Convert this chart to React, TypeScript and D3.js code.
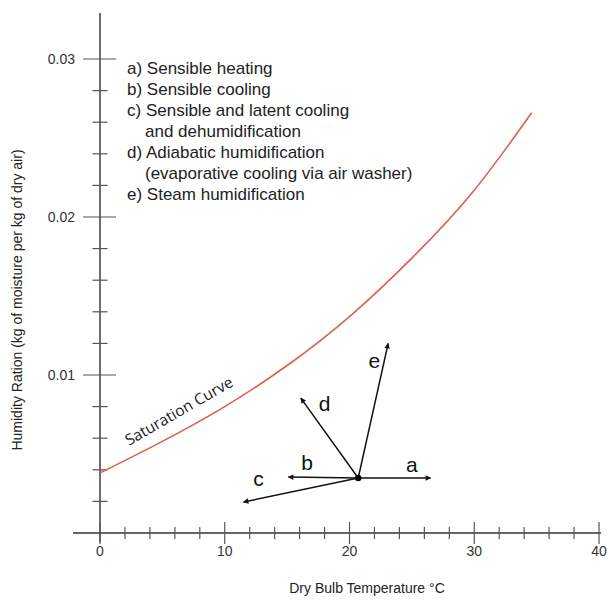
import React from "react";
import * as d3 from "d3";

// Saturation curve (dry bulb °C, humidity ratio kg/kg)
const satTemps = [0, 5, 10, 15, 20, 25, 30, 34.6];
const satW = [0.0038, 0.0058, 0.008, 0.0106, 0.0137, 0.0174, 0.0217, 0.0266];

// Process arrows from a common state point
const originTemp = 20.7;
const originW = 0.00348;
const processKeys = ["a", "b", "c", "d", "e"];
const processEndTemp = [26.5, 15.1, 11.5, 16.1, 23.1];
const processEndW = [0.00348, 0.00354, 0.00196, 0.00854, 0.012];
const processLabelTemp = [25.0, 16.6, 12.7, 18.0, 22.0];
const processLabelW = [0.0043, 0.00443, 0.00342, 0.00816, 0.0109];

// Axis ticks
const xMajorTicks = [0, 10, 20, 30, 40];
const xMinorTicks = [2, 4, 6, 8, 12, 14, 16, 18, 22, 24, 26, 28, 32, 34, 36, 38];
const yMajorTicks = [0.01, 0.02, 0.03];
const yMajorLabels = ["0.01", "0.02", "0.03"];
const yMinorTicks = [0.002, 0.004, 0.006, 0.008, 0.012, 0.014, 0.016, 0.018, 0.022, 0.024, 0.026, 0.028];

const legendLines = [
  { text: "a) Sensible heating", indent: false },
  { text: "b) Sensible cooling", indent: false },
  { text: "c) Sensible and latent cooling", indent: false },
  { text: "and dehumidification", indent: true },
  { text: "d) Adiabatic humidification", indent: false },
  { text: "(evaporative cooling via air washer)", indent: true },
  { text: "e) Steam humidification", indent: false },
];

const xTitle = "Dry Bulb Temperature °C";
const yTitle = "Humidity Ration (kg of moisture per kg of dry air)";
const curveLabel = "Saturation Curve";

export default function App() {
  const W = 615;
  const H = 602;
  const x = d3.scaleLinear().domain([0, 40]).range([100, 599]);
  const y = d3.scaleLinear().domain([0, 0.03]).range([533, 59]);

  const satData = satTemps.map((t, i) => [t, satW[i]] as [number, number]);
  const line = d3
    .line<[number, number]>()
    .x((d) => x(d[0]))
    .y((d) => y(d[1]))
    .curve(d3.curveNatural);

  const axisColor = "#333";
  const tickColor = "#555";
  const font = "'Liberation Sans', Arial, sans-serif";

  const x0 = x(0);
  const y0 = y(0);

  return (
    <svg
      width={W}
      height={H}
      style={{ position: "absolute", left: 0, top: 0, background: "#fff" }}
      fontFamily={font}
    >
      <defs>
        <marker
          id="arrow"
          viewBox="0 0 10 10"
          refX="9"
          refY="5"
          markerWidth="8"
          markerHeight="5.5"
          markerUnits="userSpaceOnUse"
          orient="auto"
        >
          <path d="M0,0 L10,5 L0,10 z" fill="#111" />
        </marker>
      </defs>

      {/* axes */}
      <line x1={73} x2={601} y1={y0} y2={y0} stroke={axisColor} strokeWidth={1.4} />
      <line x1={x0} x2={x0} y1={13} y2={542} stroke={axisColor} strokeWidth={1.4} />

      {/* x ticks */}
      {xMajorTicks.map((t) => (
        <line key={"xM" + t} x1={x(t)} x2={x(t)} y1={y0 - 11} y2={y0 + 11} stroke={tickColor} strokeWidth={1.2} />
      ))}
      {xMinorTicks.map((t) => (
        <line key={"xm" + t} x1={x(t)} x2={x(t)} y1={y0 - 6} y2={y0 + 6} stroke={tickColor} strokeWidth={1.2} />
      ))}
      {xMajorTicks.map((t) => (
        <text key={"xl" + t} x={x(t)} y={556} textAnchor="middle" fontSize={14} fill="#333">
          {String(t)}
        </text>
      ))}

      {/* y ticks */}
      {yMajorTicks.map((t) => (
        <line key={"yM" + t} x1={x0 - 17} x2={x0 + 16} y1={y(t)} y2={y(t)} stroke={tickColor} strokeWidth={1.2} />
      ))}
      {yMinorTicks.map((t) => (
        <line key={"ym" + t} x1={x0 - 7.5} x2={x0 + 7.5} y1={y(t)} y2={y(t)} stroke={tickColor} strokeWidth={1.2} />
      ))}
      {yMajorTicks.map((t, i) => (
        <text key={"yl" + t} x={75} y={y(t) + 5} textAnchor="end" fontSize={14} fill="#333">
          {yMajorLabels[i]}
        </text>
      ))}

      {/* axis titles */}
      <text x={367} y={593} textAnchor="middle" fontSize={14} fill="#222">
        {xTitle}
      </text>
      <text
        transform={`translate(22,300) rotate(-90)`}
        textAnchor="middle"
        fontSize={14}
        fill="#222"
      >
        {yTitle}
      </text>

      {/* saturation curve */}
      <path d={line(satData) || ""} fill="none" stroke="#dc5f4e" strokeWidth={1.6} />
      <text
        transform={`translate(129,446) rotate(-30)`}
        fontSize={15.5}
        fontFamily="'Open Sans', 'Noto Sans', sans-serif"
        fill="#222"
      >
        {curveLabel}
      </text>

      {/* legend */}
      {legendLines.map((l, i) => (
        <text key={"lg" + i} x={l.indent ? 145 : 127} y={74 + i * 21} fontSize={17} fill="#222">
          {l.text}
        </text>
      ))}

      {/* process arrows */}
      {processKeys.map((k, i) => (
        <line
          key={"ar" + k}
          x1={x(originTemp)}
          y1={y(originW)}
          x2={x(processEndTemp[i])}
          y2={y(processEndW[i])}
          stroke="#111"
          strokeWidth={1.5}
          markerEnd="url(#arrow)"
        />
      ))}
      {processKeys.map((k, i) => (
        <text
          key={"al" + k}
          x={x(processLabelTemp[i])}
          y={y(processLabelW[i]) + 7}
          textAnchor="middle"
          fontSize={21}
          fill="#111"
        >
          {k}
        </text>
      ))}
      <circle cx={x(originTemp)} cy={y(originW)} r={3.2} fill="#000" />
    </svg>
  );
}
